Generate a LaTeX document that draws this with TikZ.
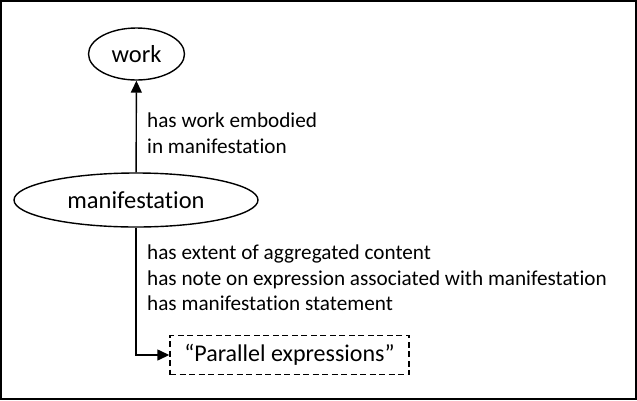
\documentclass[tikz,border=0pt]{standalone}
\usepackage{fontspec}
\setmainfont{Carlito}[Ligatures=NoCommon]
\usetikzlibrary{shapes}
\usetikzlibrary{arrows.meta}
\tikzset{
    entity/.style = {ellipse, line width=1.4pt, draw=black, align=center, inner sep=0pt, font=\fontsize{24.5}{28}\selectfont},
    literal/.style = {rectangle, line width=1.4pt, draw=black, dash pattern=on 6pt off 3.5pt, inner sep=0pt, font=\fontsize{24}{28}\selectfont},
    rellabel/.style = {align=left, anchor=west, draw=none, inner sep=0pt, font=\fontsize{21.2}{25.5}\selectfont},
    edgen/.style = {-{Triangle[length=12pt,width=11pt]}, line width=1.4pt}
}
\begin{document}
\begin{tikzpicture}[x=1pt,y=1pt]
%
\useasboundingbox (0,0) rectangle (637,-400);
\draw[line width=2pt] (1,-1) rectangle (636,-399);
%
\node[entity, minimum width=96pt, minimum height=52pt] at (136.5,-54) (w) {work};
\node[entity, minimum width=244pt, minimum height=54pt] at (136,-200) (m) {manifestation};
\node[literal, minimum width=239pt, minimum height=39pt] at (289.5,-355) (p) {“Parallel expressions”};
\node[rellabel] at (147,-133) (lw) {has work embodied\\in manifestation};
\node[rellabel] at (147,-278) (lp) {has extent of aggregated content\\has note on expression associated with manifestation\\has manifestation statement};
%
\draw[edgen] (m) -- (w);
\draw[edgen] (m.south) |- (p.west);
\end{tikzpicture}
\end{document}
